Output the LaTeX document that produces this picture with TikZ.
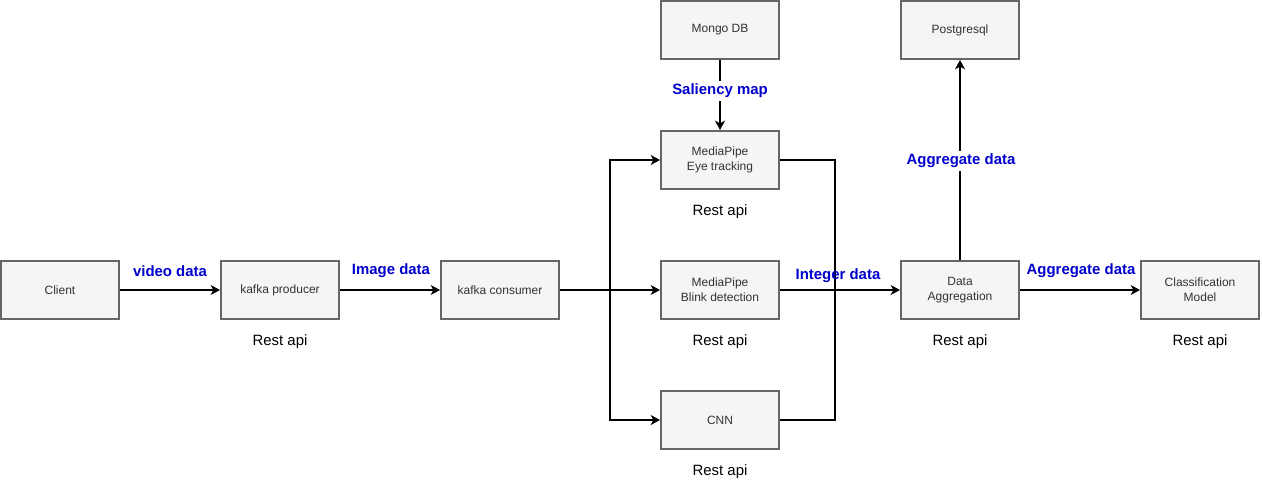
\documentclass[tikz,border=0pt]{standalone}
\usepackage{fontspec}
\setmainfont{Liberation Sans}
\usetikzlibrary{arrows.meta}

\definecolor{boxfill}{HTML}{F5F5F5}
\definecolor{boxline}{HTML}{666666}
\definecolor{boxtext}{HTML}{333333}
\definecolor{flowblue}{HTML}{0000CC}

\begin{document}
\begin{tikzpicture}[x=0.75pt, y=-0.75pt,
    svc/.style={draw=boxline, fill=boxfill, line width=1.5pt, minimum width=88.5pt, minimum height=43.5pt,
        inner sep=0pt, align=center, text=boxtext, font=\fontsize{9}{11}\selectfont},
    api/.style={font=\fontsize{11.2}{13}\selectfont},
    flow/.style={line width=1.5pt, -{Stealth[length=7pt, width=7.5pt, inset=2pt]}},
    wire/.style={line width=1.5pt},
    lbl/.style={text=flowblue, font=\fontsize{11.2}{13}\selectfont\bfseries, inner sep=1pt},
    lblw/.style={lbl, fill=white, inner sep=2pt}]
    \useasboundingbox (0, 0) rectangle (1262, 481);

    % boxes
    \node[svc] (client) at (60, 290) {Client};
    \node[svc] (producer) at (280, 290) {kafka producer};
    \node[svc] (consumer) at (500, 290) {kafka consumer};
    \node[svc] (mongo) at (720, 30) {Mongo DB};
    \node[svc] (eye) at (720, 160) {MediaPipe\\Eye tracking};
    \node[svc] (blink) at (720, 290) {MediaPipe\\Blink detection};
    \node[svc] (cnn) at (720, 420) {CNN};
    \node[svc] (postgres) at (960, 30) {Postgresql};
    \node[svc] (agg) at (960, 290) {Data\\Aggregation};
    \node[svc] (model) at (1200, 290) {Classification\\Model};

    % rest api captions
    \node[api] (apiProducer) at (280, 342) {Rest api};
    \node[api] (apiEye) at (720, 212) {Rest api};
    \node[api] (apiBlink) at (720, 342) {Rest api};
    \node[api] (apiCnn) at (720, 472) {Rest api};
    \node[api] (apiAgg) at (960, 342) {Rest api};
    \node[api] (apiModel) at (1200, 342) {Rest api};

    % split and merge points
    \coordinate (split) at (610, 290);
    \coordinate (merge) at (835, 290);

    \draw[flow] (client) -- (producer);
    \draw[flow] (producer) -- (consumer);
    \draw[flow] (consumer) -- (blink);
    \draw[flow] (consumer.east) -| (split) |- (eye.west);
    \draw[flow] (split) |- (cnn.west);
    \draw[wire] (eye.east) -| (merge);
    \draw[wire] (cnn.east) -| (merge);
    \draw[flow] (blink) -- (agg);
    \draw[flow] (agg) -- (model);
    \draw[flow] (mongo) -- (eye);
    \draw[flow] (agg) -- (postgres);

    % flow labels
    \node[lbl] (lVideo) at (170, 271) {video data};
    \node[lbl] (lImage) at (391, 271) {Image data};
    \node[lbl] (lInteger) at (838, 276) {Integer data};
    \node[lbl] (lAggModel) at (1081, 271) {Aggregate data};
    \node[lblw] (lSaliency) at (720, 91) {Saliency map};
    \node[lblw] (lAggDb) at (961, 161) {Aggregate data};
\end{tikzpicture}
\end{document}
